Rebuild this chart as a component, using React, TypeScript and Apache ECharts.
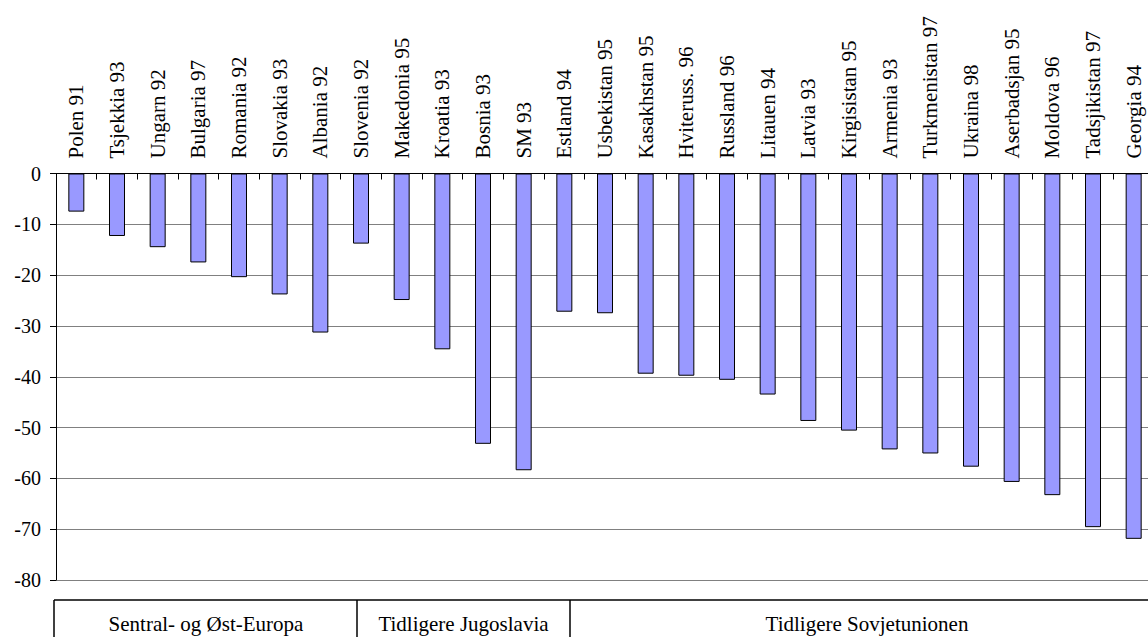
import React, { useEffect, useRef } from "react";
import * as echarts from "echarts";

const categories = [
  "Polen 91", "Tsjekkia 93", "Ungarn 92", "Bulgaria 97", "Romania 92", "Slovakia 93", "Albania 92",
  "Slovenia 92", "Makedonia 95", "Kroatia 93", "Bosnia 93", "SM 93",
  "Estland 94", "Usbekistan 95", "Kasakhstan 95", "Hviteruss. 96", "Russland 96", "Litauen 94",
  "Latvia 93", "Kirgisistan 95", "Armenia 93", "Turkmenistan 97", "Ukraina 98", "Aserbadsjan 95",
  "Moldova 96", "Tadsjikistan 97", "Georgia 94",
];

const values = [
  -7.5, -12.3, -14.5, -17.5, -20.4, -23.8, -31.3,
  -13.8, -24.9, -34.6, -53.2, -58.4,
  -27.2, -27.5, -39.4, -39.8, -40.6, -43.5,
  -48.7, -50.6, -54.3, -55.1, -57.7, -60.7,
  -63.3, -69.6, -71.9,
];

const groupLabels = ["Sentral- og Øst-Europa", "Tidligere Jugoslavia", "Tidligere Sovjetunionen"];

const FONT = "Liberation Serif";

export default function App() {
  const ref = useRef<HTMLDivElement>(null);

  useEffect(() => {
    document.body.style.margin = "0";
    if (!ref.current) return;
    const chart = echarts.init(ref.current, null, { renderer: "svg" });
    const txt = (text: string, x: number) => ({
      type: "text",
      x,
      y: 624,
      style: {
        text,
        fontSize: 21,
        fontFamily: FONT,
        fill: "#000",
        textAlign: "center",
        textVerticalAlign: "middle",
      },
    });
    const vline = (x: number) => ({
      type: "line",
      shape: { x1: x, y1: 600, x2: x, y2: 640 },
      style: { stroke: "#000", lineWidth: 1.5 },
    });
    chart.setOption({
      animation: false,
      textStyle: { fontFamily: FONT },
      grid: { left: 56, top: 173.5, width: 1098, height: 406.5 },
      xAxis: {
        type: "category",
        position: "top",
        data: categories,
        axisLine: { show: true, lineStyle: { color: "#000", width: 1 } },
        axisTick: { show: true, inside: true, length: 6, lineStyle: { color: "#000" } },
        axisLabel: {
          rotate: 90,
          interval: 0,
          margin: 15,
          fontSize: 21,
          fontFamily: FONT,
          color: "#000",
        },
      },
      yAxis: {
        type: "value",
        min: -80,
        max: 0,
        interval: 10,
        axisLine: { show: true, lineStyle: { color: "#000", width: 1 } },
        axisTick: { show: true, length: 6, lineStyle: { color: "#000" } },
        axisLabel: { margin: 15, fontSize: 20, fontFamily: FONT, color: "#000" },
        splitLine: { show: true, lineStyle: { color: "#808080", width: 1 } },
      },
      series: [
        {
          type: "bar",
          data: values,
          barWidth: 16,
          itemStyle: { color: "#9999ff", borderColor: "#000", borderWidth: 1 },
        },
      ],
      graphic: [
        {
          type: "line",
          shape: { x1: 54, y1: 600, x2: 1160, y2: 600 },
          style: { stroke: "#000", lineWidth: 1.5 },
        },
        vline(54),
        vline(357),
        vline(570),
        txt(groupLabels[0], 206),
        txt(groupLabels[1], 463.5),
        txt(groupLabels[2], 867),
      ],
    });
    return () => chart.dispose();
  }, []);

  return (
    <div style={{ width: 1148, height: 637, overflow: "hidden", position: "relative" }}>
      <div ref={ref} style={{ width: 1160, height: 637 }} />
    </div>
  );
}
